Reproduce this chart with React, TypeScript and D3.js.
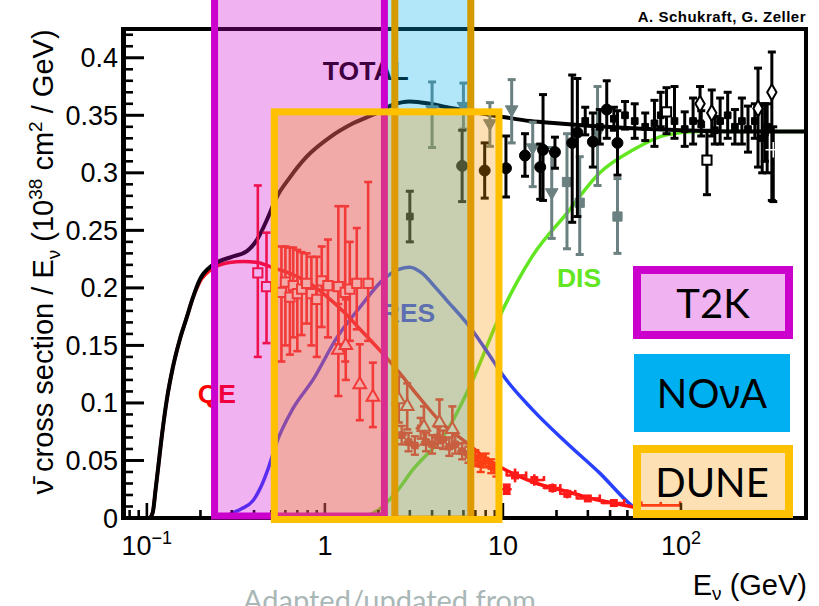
import React from 'react';
import * as d3 from 'd3';

const W = 819, H = 606;
const PLOT = { left: 122, right: 806, top: 29, bottom: 518 };
const X_DOMAIN: [number, number] = [0.0725, 504];
const Y_DOMAIN: [number, number] = [0, 0.425];

// ---- model curves: [E (GeV), sigma/E] ----
const totalCurve: [number, number][] = [
  [0.104, 0], [0.108, 0.005], [0.112, 0.025], [0.116, 0.045], [0.12, 0.065], [0.1295, 0.103],
  [0.14, 0.131], [0.153, 0.155], [0.168, 0.175], [0.18, 0.19], [0.198, 0.207], [0.235, 0.22],
  [0.3, 0.227], [0.365, 0.232], [0.42, 0.243], [0.472, 0.259], [0.537, 0.279], [0.636, 0.296],
  [0.79, 0.314], [1.07, 0.331], [1.44, 0.343], [1.96, 0.352], [2.4, 0.359], [3.0, 0.362],
  [3.9, 0.36], [4.85, 0.357], [5.74, 0.355], [7.4, 0.352], [10.5, 0.348], [14.2, 0.345],
  [20, 0.343], [30, 0.341], [50, 0.339], [100, 0.337], [200, 0.336], [504, 0.336],
];
const qeCurve: [number, number][] = [
  [0.104, 0], [0.108, 0.005], [0.112, 0.025], [0.116, 0.045], [0.12, 0.065], [0.1295, 0.103],
  [0.14, 0.131], [0.153, 0.155], [0.168, 0.175], [0.18, 0.19], [0.198, 0.205], [0.235, 0.217],
  [0.29, 0.222], [0.35, 0.223], [0.42, 0.222], [0.5, 0.218], [0.65, 0.212], [0.82, 0.204],
  [1.0, 0.194], [1.3, 0.178], [1.6, 0.163], [2.0, 0.147], [2.6, 0.127], [3.3, 0.107],
  [4.5, 0.083], [6.3, 0.065], [8, 0.052], [10.3, 0.042], [15.5, 0.03], [23, 0.023],
  [29.5, 0.018], [41.5, 0.013], [54, 0.0096],
];
const resCurve: [number, number][] = [
  [0.27, 0], [0.3, 0.004], [0.34, 0.008], [0.394, 0.015], [0.44, 0.028], [0.478, 0.042],
  [0.537, 0.066], [0.661, 0.095], [0.856, 0.12], [1.17, 0.157], [1.57, 0.183], [2.12, 0.207],
  [2.6, 0.216], [3.0, 0.218], [3.5, 0.213], [4.2, 0.2], [4.85, 0.189], [6.52, 0.166],
  [8.78, 0.137], [10, 0.124], [14.7, 0.094], [22.9, 0.065], [35, 0.039], [54, 0.0096],
  [64, 0.002], [72, 0],
];
const disCurve: [number, number][] = [
  [1.6, 0], [2.04, 0.008], [2.5, 0.022], [3.12, 0.042], [4.85, 0.076], [6.77, 0.12],
  [9.25, 0.17], [12, 0.205], [14.7, 0.228], [22.9, 0.265], [35, 0.3], [54, 0.32],
  [83, 0.333], [127, 0.336], [504, 0.336],
];

// ---- measurements: [E, value, errLow, errHigh] ----
type Pt = [number, number, number, number];
type PtH = [number, number, number, number, number, number];

const qeSquares: Pt[] = [
  [0.42, 0.213, 0.073, 0.076], [0.47, 0.201, 0.049, 0.047], [0.57, 0.196, 0.06, 0.04],
  [0.6, 0.205, 0.055, 0.031], [0.636, 0.192, 0.05, 0.043], [0.664, 0.202, 0.045, 0.033],
  [0.7, 0.195, 0.05, 0.038], [0.74, 0.199, 0.04, 0.032], [0.79, 0.204, 0.035, 0.026],
  [0.84, 0.195, 0.045, 0.032], [0.9, 0.19, 0.05, 0.037], [0.96, 0.206, 0.04, 0.03],
  [1.04, 0.202, 0.045, 0.04], [1.19, 0.201, 0.05, 0.07], [1.3, 0.196, 0.06, 0.075],
  [1.38, 0.199, 0.045, 0.041], [1.51, 0.204, 0.04, 0.048], [1.75, 0.204, 0.05, 0.088],
];
const qeTriangles: Pt[] = [
  [1.19, 0.146, 0.04, 0.04], [1.31, 0.15, 0.03, 0.04], [1.57, 0.116, 0.031, 0.035],
  [1.86, 0.105, 0.026, 0.03], [2.6, 0.103, 0.02, 0.02], [2.9, 0.097, 0.02, 0.02],
  [3.6, 0.079, 0.015, 0.018], [4.4, 0.083, 0.018, 0.02], [5.2, 0.077, 0.016, 0.02],
];
const qeCluster: Pt[] = [
  [2.7, 0.072, 0.008, 0.008], [2.95, 0.066, 0.008, 0.008], [3.2, 0.063, 0.008, 0.008],
  [3.45, 0.078, 0.009, 0.009], [3.7, 0.066, 0.008, 0.008], [4.0, 0.064, 0.008, 0.008],
  [4.3, 0.07, 0.009, 0.009], [4.6, 0.068, 0.008, 0.008], [5.0, 0.062, 0.008, 0.008],
  [5.4, 0.064, 0.008, 0.008], [5.9, 0.058, 0.007, 0.007], [6.4, 0.055, 0.007, 0.007],
  [7.0, 0.052, 0.007, 0.007], [7.5, 0.047, 0.007, 0.007], [8.0, 0.05, 0.006, 0.006],
  [8.6, 0.045, 0.006, 0.006], [9.2, 0.042, 0.006, 0.006], [10.5, 0.025, 0.004, 0.004],
];
// [E, value, errLow, errHigh, Emin, Emax]
const qeHigh: PtH[] = [
  [11.7, 0.037, 0.006, 0.006, 10.5, 13.5], [15, 0.033, 0.005, 0.005, 13.5, 17],
  [19, 0.026, 0.004, 0.004, 17, 21], [23, 0.021, 0.004, 0.004, 21, 25.5],
  [30, 0.017, 0.003, 0.003, 26, 35], [42, 0.013, 0.003, 0.003, 36, 48],
  [77, 0.011, 0.0, 0.003, 60, 99],
];

const blackCircles: Pt[] = [
  [5.9, 0.306, 0.031, 0.031], [7.9, 0.302, 0.024, 0.024], [10.4, 0.304, 0.025, 0.028],
  [13.3, 0.315, 0.018, 0.019], [16.2, 0.305, 0.028, 0.02], [16.8, 0.32, 0.044, 0.048],
  [19.6, 0.318, 0.014, 0.013], [24.5, 0.326, 0.069, 0.059], [26.2, 0.335, 0.073, 0.047],
  [32, 0.327, 0.022, 0.025], [38.3, 0.355, 0.025, 0.025], [44, 0.326, 0.028, 0.028],
];
const blackSquares: Pt[] = [
  [3.0, 0.262, 0.022, 0.022], [29, 0.345, 0.012, 0.012], [35, 0.34, 0.015, 0.015],
  [42, 0.347, 0.01, 0.01], [48.5, 0.35, 0.012, 0.012], [55, 0.345, 0.015, 0.015],
  [63, 0.34, 0.012, 0.012], [71, 0.343, 0.02, 0.02], [77, 0.35, 0.01, 0.02],
  [92, 0.345, 0.015, 0.03], [105, 0.338, 0.015, 0.015], [117, 0.345, 0.02, 0.02],
  [130, 0.342, 0.01, 0.012], [155, 0.337, 0.012, 0.012], [166, 0.345, 0.02, 0.02],
  [183, 0.35, 0.02, 0.02], [201, 0.34, 0.015, 0.015], [220, 0.345, 0.02, 0.02],
  [238, 0.338, 0.02, 0.02], [260, 0.345, 0.015, 0.015], [286, 0.33, 0.03, 0.03],
  [296, 0.335, 0.025, 0.025], [305, 0.34, 0.04, 0.02],
];
const openSquares: Pt[] = [[83, 0.353, 0.019, 0.021], [140, 0.311, 0.03, 0.026]];
const openDiamonds: Pt[] = [
  [128, 0.36, 0.015, 0.015], [149, 0.352, 0.02, 0.02], [271, 0.356, 0.051, 0.035],
  [324, 0.37, 0.094, 0.035],
];
const crossPoints: Pt[] = [[330, 0.32, 0.045, 0.02]];

const greyTriangles: Pt[] = [
  [4.0, 0.355, 0.033, 0.024], [6.0, 0.358, 0.02, 0.02], [8.45, 0.343, 0.02, 0.018],
  [11.2, 0.355, 0.029, 0.026], [14.7, 0.322, 0.034, 0.022], [18.8, 0.283, 0.04, 0.039],
  [34, 0.335, 0.046, 0.04],
];
const greySquares: Pt[] = [[22.9, 0.292, 0.058, 0.042], [27, 0.274, 0.045, 0.04], [44, 0.262, 0.032, 0.033]];

// ---- experiment bands: energy ranges ----
const bandNames = ['T2K', 'NOvA', 'DUNE'];
const bandEmin = [0.24, 2.47, 0.52];
const bandEmax = [2.16, 6.6, 9.5];
const bandTop = [0.47, 0.47, 0.353];

const yTickValues = [0, 0.05, 0.1, 0.15, 0.2, 0.25, 0.3, 0.35, 0.4];
const yTickLabels = ['0', '0.05', '0.1', '0.15', '0.2', '0.25', '0.3', '0.35', '0.4'];
const xTickValues = [0.1, 1, 10, 100];
const xTickBase = ['10', '1', '10', '10'];
const xTickExp = ['\u22121', '', '', '2'];

const FONT = "'Liberation Sans', Arial, Helvetica, sans-serif";
const PPT = "Lato, 'Open Sans', 'Noto Sans', sans-serif";

const RED = '#ff1a1a';
const BLACK = '#000';
const GREY = '#6b8080';
const MAGENTA = '#cc00cc';
const NOVA_BLUE = '#00b0f0';
const GOLD = '#ffc000';
const DARK_GOLD = '#d49a00';
const DUNE_FILL = '#f89808';

export default function App() {
  const xs = d3.scaleLog().domain(X_DOMAIN).range([PLOT.left, PLOT.right]);
  const ys = d3.scaleLinear().domain(Y_DOMAIN).range([PLOT.bottom, PLOT.top]);
  const line = d3.line<[number, number]>().x(d => xs(d[0])).y(d => ys(d[1])).curve(d3.curveMonotoneX);

  const sym = (t: d3.SymbolType, s: number) => d3.symbol().type(t).size(s)() as string;
  const sqPath = sym(d3.symbolSquare, 85);
  const sqSmall = sym(d3.symbolSquare, 45);
  const triPath = sym(d3.symbolTriangle, 70);
  const circPath = sym(d3.symbolCircle, 95);
  const diaPath = sym(d3.symbolDiamond, 75);
  const plusPath = sym((d3 as any).symbolPlus || d3.symbolCross, 80);

  const errBars = (pts: Pt[], color: string, sw: number, key: string) =>
    pts.map((p, i) => {
      const x = xs(p[0]);
      const y1 = ys(p[1] - p[2]);
      const y2 = ys(p[1] + p[3]);
      return (
        <g key={key + i} stroke={color} strokeWidth={sw}>
          <line x1={x} x2={x} y1={y1} y2={y2} />
          <line x1={x - 4} x2={x + 4} y1={y1} y2={y1} />
          <line x1={x - 4} x2={x + 4} y1={y2} y2={y2} />
        </g>
      );
    });

  const markers = (pts: Pt[], path: string, fill: string, stroke: string, sw: number, key: string, rot = 0) =>
    pts.map((p, i) => (
      <path key={key + i} d={path} fill={fill} stroke={stroke} strokeWidth={sw}
        transform={`translate(${xs(p[0])},${ys(p[1])}) rotate(${rot})`} />
    ));

  const xMinor: number[] = [];
  [0.01, 0.1, 1, 10, 100].forEach(dec => {
    for (let k = 2; k <= 9; k++) {
      const v = dec * k;
      if (v > X_DOMAIN[0] && v < X_DOMAIN[1]) xMinor.push(v);
    }
  });
  const yMinor = d3.range(0, 43).map(i => i / 100).filter((v, i) => i % 5 !== 0);

  const bands = bandNames.map((n, i) => ({
    name: n,
    x0: xs(bandEmin[i]),
    x1: xs(bandEmax[i]),
    y0: ys(bandTop[i]),
  }));
  const yZero = ys(0);

  return (
    <div style={{ position: 'absolute', left: 0, top: 0, width: W, height: H, overflow: 'hidden' }}>
      <svg width={W} height={H} viewBox={`0 0 ${W} ${H}`} style={{ display: 'block' }}>
        <rect x={0} y={0} width={W} height={H} fill="#fff" />

        {/* model curves */}
        <path d={line(disCurve) || ''} fill="none" stroke="#62e622" strokeWidth={3.5} />
        <path d={line(resCurve) || ''} fill="none" stroke="#2840ff" strokeWidth={3.5} />
        <path d={line(qeCurve) || ''} fill="none" stroke="#ff1010" strokeWidth={3.5} />
        <path d={line(totalCurve) || ''} fill="none" stroke="#000" strokeWidth={4} />

        {/* measurements */}
        {errBars(greyTriangles, GREY, 3, 'gt')}
        {errBars(greySquares, GREY, 3, 'gs')}
        {markers(greyTriangles, triPath, GREY, GREY, 1, 'gtm', 180)}
        {markers(greySquares, sqPath, GREY, GREY, 1, 'gsm')}
        {errBars(blackSquares, BLACK, 3, 'bs')}
        {errBars(blackCircles, BLACK, 3, 'bc')}
        {errBars(openSquares, BLACK, 3, 'os')}
        {errBars(openDiamonds, BLACK, 3, 'od')}
        {errBars(crossPoints, BLACK, 3, 'cp')}
        {markers(blackSquares, sqSmall, BLACK, BLACK, 1, 'bsm')}
        {markers(blackCircles, circPath, BLACK, BLACK, 1, 'bcm')}
        {markers(openSquares, sqPath, '#fff', BLACK, 2, 'osm')}
        {markers(openDiamonds, diaPath, '#fff', BLACK, 2, 'odm')}
        {markers(crossPoints, plusPath, '#fff', '#fff', 1.5, 'cpm')}

        {errBars(qeSquares, RED, 2.6, 'qs')}
        {errBars(qeTriangles, RED, 2.6, 'qt')}
        {errBars(qeCluster, RED, 2.4, 'qc')}
        {qeCluster.map((p, i) => (
          <line key={'qch' + i} x1={xs(p[0]) - 5} x2={xs(p[0]) + 5} y1={ys(p[1])} y2={ys(p[1])} stroke={RED} strokeWidth={2.4} />
        ))}
        {markers(qeCluster, sqSmall, RED, RED, 1, 'qcm')}
        {qeHigh.map((p, i) => {
          const x = xs(p[0]);
          const y = ys(p[1]);
          const xa = xs(p[4]);
          const xb = xs(p[5]);
          return (
            <g key={'qh' + i} stroke={RED} strokeWidth={2.6}>
              <line x1={xa} x2={xb} y1={y} y2={y} />
              <line x1={xa} x2={xa} y1={y - 4} y2={y + 1} />
              <line x1={xb} x2={xb} y1={y - 4} y2={y + 1} />
              <line x1={x} x2={x} y1={ys(p[1] - p[2])} y2={ys(p[1] + p[3])} />
              {i < qeHigh.length - 1 && <rect x={x - 4} y={y - 4} width={8} height={8} fill={RED} stroke="none" />}
            </g>
          );
        })}
        {markers(qeSquares, sqPath, '#fff', RED, 2, 'qsm')}
        {markers(qeTriangles, triPath, '#fff', RED, 2, 'qtm')}

        {/* curve labels */}
        <g fontFamily={FONT} fontWeight="bold" fontSize={26.5}>
          <text x={xs(0.974)} y={ys(0.3807)} fill="#000">TOTAL</text>
          <text x={xs(0.193)} y={ys(0.1)} fill="#ff0000">QE</text>
          <text x={xs(2.06)} y={ys(0.17)} fill="#283cff">RES</text>
          <text x={xs(20.1)} y={ys(0.2008)} fill="#62e622">DIS</text>
        </g>

        {/* frame and ticks */}
        <g stroke="#000">
          {yTickValues.map((v, i) => (
            <line key={'ytM' + i} x1={PLOT.left} x2={PLOT.left + 22} y1={ys(v)} y2={ys(v)} strokeWidth={3} />
          ))}
          {yMinor.map((v, i) => (
            <line key={'ytm' + i} x1={PLOT.left} x2={PLOT.left + 11} y1={ys(v)} y2={ys(v)} strokeWidth={2.6} />
          ))}
          {xTickValues.map((v, i) => (
            <line key={'xtM' + i} x1={xs(v)} x2={xs(v)} y1={PLOT.bottom} y2={PLOT.bottom - 15} strokeWidth={2.6} />
          ))}
          {xMinor.map((v, i) => (
            <line key={'xtm' + i} x1={xs(v)} x2={xs(v)} y1={PLOT.bottom} y2={PLOT.bottom - 8} strokeWidth={2.6} />
          ))}
          <line x1={PLOT.left + 1.5} x2={PLOT.left + 1.5} y1={PLOT.top - 2} y2={PLOT.bottom + 2} strokeWidth={5} />
          <line x1={PLOT.left} x2={PLOT.right + 2} y1={PLOT.top} y2={PLOT.top} strokeWidth={4} />
          <line x1={PLOT.right} x2={PLOT.right} y1={PLOT.top - 2} y2={PLOT.bottom + 2} strokeWidth={4} />
          <line x1={PLOT.left} x2={PLOT.right + 2} y1={PLOT.bottom} y2={PLOT.bottom} strokeWidth={4} />
        </g>

        {/* tick labels */}
        <g fontFamily={FONT} fontSize={27} fill="#000">
          {yTickValues.map((v, i) => (
            <text key={'ytl' + i} x={118} y={ys(v) + 9.5} textAnchor="end">{yTickLabels[i]}</text>
          ))}
          {xTickValues.map((v, i) => (
            <text key={'xtl' + i} x={xs(v)} y={555} textAnchor="middle">
              {xTickBase[i]}
              {xTickExp[i] && <tspan dy={-11} fontSize={18}>{xTickExp[i]}</tspan>}
            </text>
          ))}
        </g>

        {/* axis titles */}
        <text fontFamily={FONT} fontSize={29} x={807} y={595} textAnchor="end" fill="#000">
          E<tspan dy={5} fontSize={19}>ν</tspan><tspan dy={-5}> (GeV)</tspan>
        </text>
        <text fontFamily={FONT} fontSize={29} fill="#000" textAnchor="middle"
          transform={`translate(53,${262}) rotate(-90)`}>
          ν̄ cross section / E<tspan dy={7} fontSize={19}>ν</tspan><tspan dy={-7}> (10</tspan>
          <tspan dy={-11} fontSize={19}>38</tspan><tspan dy={11}> cm</tspan>
          <tspan dy={-11} fontSize={19}>2</tspan><tspan dy={11}> / GeV)</tspan>
        </text>
        <text fontFamily={FONT} fontWeight="bold" fontSize={15} letterSpacing={0.5} x={806} y={22} textAnchor="end" fill="#000">
          A. Schukraft, G. Zeller
        </text>

        {/* experiment bands */}
        <rect x={bands[0].x0} y={bands[0].y0} width={bands[0].x1 - bands[0].x0} height={yZero - 2 - bands[0].y0}
          fill={MAGENTA} fillOpacity={0.3} stroke={MAGENTA} strokeWidth={7} />
        <rect x={bands[1].x0 - 7} y={bands[1].y0} width={bands[1].x1 - bands[1].x0 + 7} height={yZero + 1 - bands[1].y0}
          fill={NOVA_BLUE} fillOpacity={0.3} stroke="none" />
        <rect x={bands[1].x0} y={bands[1].y0} width={bands[1].x1 - bands[1].x0} height={yZero + 1 - bands[1].y0}
          fill="none" stroke={DARK_GOLD} strokeWidth={7} />
        <rect x={bands[2].x0} y={bands[2].y0} width={bands[2].x1 - bands[2].x0} height={yZero + 1.5 - bands[2].y0}
          fill={DUNE_FILL} fillOpacity={0.3} stroke={GOLD} strokeWidth={7} />

        {/* legend boxes */}
        <rect x={637} y={270} width={152} height={65} fill={MAGENTA} fillOpacity={0.3} stroke={MAGENTA} strokeWidth={8} />
        <rect x={634} y={354} width={156} height={78} fill={NOVA_BLUE} />
        <rect x={637} y={449} width={152} height={65} fill={DUNE_FILL} fillOpacity={0.3} stroke={GOLD} strokeWidth={8} />
        <g fontFamily={PPT} fontSize={40} fill="#000" textAnchor="middle">
          <text x={713} y={318}>{bandNames[0]}</text>
          <text x={712} y={408}>NO<tspan fontFamily="'Noto Sans', 'DejaVu Sans', sans-serif">ν</tspan>A</text>
          <text x={712} y={497}>{bandNames[2]}</text>
        </g>

        <text fontFamily={PPT} fontSize={29} x={243} y={611} fill="#a9b7b7">Adapted/updated from</text>
      </svg>
    </div>
  );
}
